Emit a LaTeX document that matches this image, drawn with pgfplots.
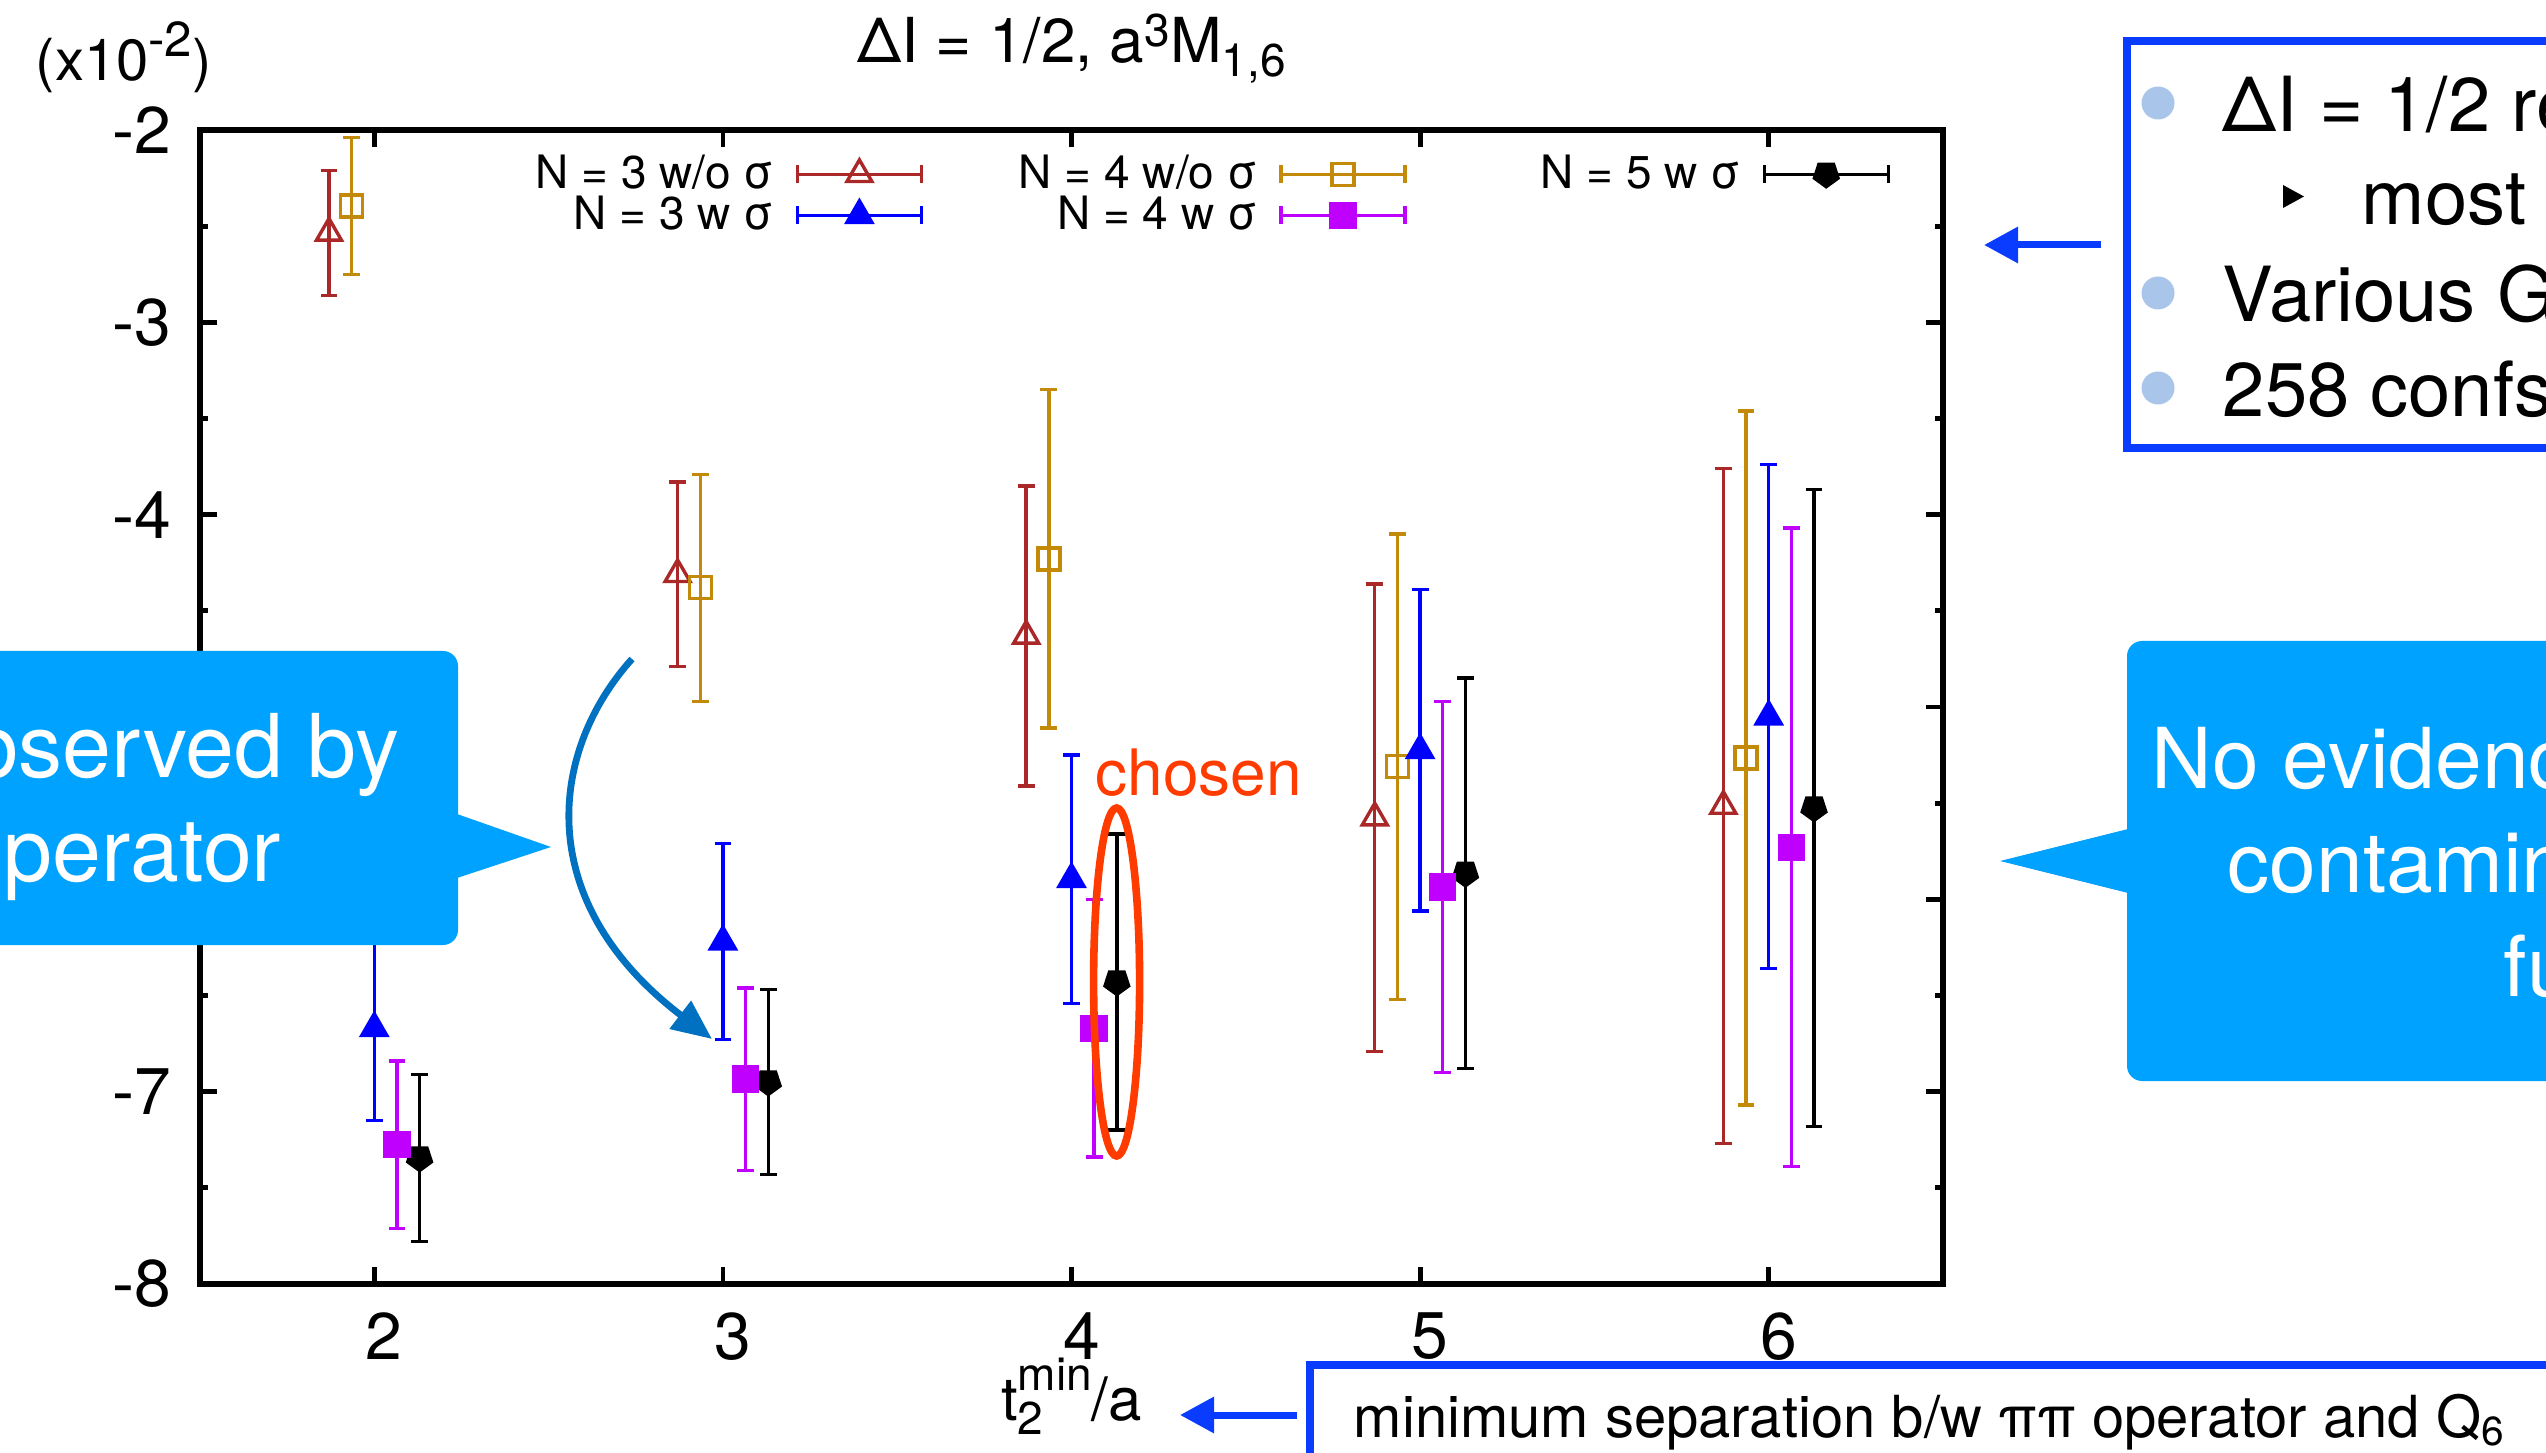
\documentclass[border=0pt]{standalone}
\usepackage{fontspec}
\setmainfont{TeX Gyre Heros}
\usepackage{pgfplots}
\pgfplotsset{compat=1.18}
\usetikzlibrary{arrows.meta}

\definecolor{gpred}{RGB}{170,40,40}
\definecolor{gpgold}{RGB}{195,138,10}
\definecolor{gpblue}{RGB}{0,0,255}
\definecolor{gpviolet}{RGB}{192,0,255}
\definecolor{callout}{RGB}{0,162,255}
\definecolor{boxblue}{RGB}{10,60,255}
\definecolor{arcblue}{RGB}{0,112,192}
\definecolor{bulletblue}{RGB}{169,198,234}
\definecolor{chosenred}{RGB}{255,59,0}

% raised / lowered text: {shift}{size}{text}
\newcommand\shifted[3]{\raisebox{#1}{\fontsize{#2}{#2}\selectfont #3}}
% legend text cell, fixed width, right aligned
\newcommand\legtext[1]{\makebox[59pt][r]{\rule[-2.5pt]{0pt}{11.25pt}#1}}

\pgfplotsset{
  eb/.style={only marks, mark options={solid, line width=0.85pt},
    error bars/.cd, y dir=both, y explicit,
    error bar style={line width=0.85pt, solid},
    error mark options={rotate=90, line width=0.85pt, mark size=2.1pt},
    /pgfplots/.cd,
    legend image code/.code={
      \draw[line width=0.85pt] (0pt,0pt) -- (31pt,0pt)
        (0pt,-2.2pt) -- (0pt,2.2pt) (31pt,-2.2pt) -- (31pt,2.2pt);
      \draw plot coordinates {(15.5pt,0pt)};
    }},
}

\begin{document}
\begin{tikzpicture}
\useasboundingbox (0,0) rectangle (636.5pt,-363.25pt);
\clip (0,0) rectangle (636.5pt,-363.25pt);

\begin{axis}[
  at={(50pt,-321pt)}, anchor=south west,
  scale only axis, width=435.75pt, height=288.5pt,
  xmin=1.5, xmax=6.5, ymin=-8, ymax=-2,
  xtick={2,3,4,5,6}, xticklabels={2,3,4,5,6},
  ytick={-8,-7,-6,-5,-4,-3,-2}, yticklabels={-8,-7,-6,-5,-4,-3,-2},
  minor ytick={-7.5,-6.5,-5.5,-4.5,-3.5,-2.5},
  tick align=inside,
  major tick length=4.3pt, minor tick length=2pt,
  every tick/.style={black, line width=1.2pt},
  axis line style={line width=1.6pt},
  tick label style={font=\fontsize{16.5}{19}\selectfont},
  xticklabel style={yshift=-3.6pt, xshift=2.5pt},
  yticklabel style={xshift=-3.6pt},
  title={ΔI = 1/2, a\shifted{4pt}{11.5}{3}M\shifted{-3.5pt}{11.5}{1,6}},
  title style={at={(axis description cs:0.5,1)}, anchor=base, yshift=10.8pt,
    font=\fontsize{15.5}{18}\selectfont},
  xlabel={t\rlap{\shifted{-3.4pt}{11.5}{2}}\shifted{7.5pt}{11.5}{min}/a},
  xlabel style={at={(axis description cs:0.5,0)}, anchor=base, yshift=-34.2pt,
    font=\fontsize{15}{18}\selectfont},
  legend columns=3, legend cell align=right, legend plot pos=right,
  legend style={at={(axis description cs:0.1933,0.9801)}, anchor=north west,
    draw=none, fill=none, inner sep=0pt,
    font=\fontsize{11.5}{13}\selectfont, nodes={inner sep=0pt},
    /tikz/every odd column/.style={column sep=5.5pt},
    /tikz/every even column/.style={column sep=24.5pt}},
]
% N = 3 w/o sigma
\addplot[eb, color=gpred, mark=triangle, mark size=3.6pt] coordinates {
  (1.87,-2.535) +- (0,0.325)
  (2.87,-4.31)  +- (0,0.48)
  (3.87,-4.63)  +- (0,0.78)
  (4.87,-5.575) +- (0,1.215)
  (5.87,-5.515) +- (0,1.755)
};
\addlegendentry{\legtext{N = 3 w/o σ}}
% N = 4 w/o sigma
\addplot[eb, color=gpgold, mark=square, mark size=2.75pt] coordinates {
  (1.935,-2.395) +- (0,0.355)
  (2.935,-4.38)  +- (0,0.59)
  (3.935,-4.23)  +- (0,0.88)
  (4.935,-5.31)  +- (0,1.21)
  (5.935,-5.265) +- (0,1.805)
};
\addlegendentry{\legtext{N = 4 w/o σ}}
% N = 5 w sigma
\addplot[eb, color=black, mark=pentagon*, mark size=3.1pt,
  mark options={solid, line width=0.85pt, rotate=180}] coordinates {
  (2.13,-7.345) +- (0,0.435)
  (3.13,-6.95)  +- (0,0.48)
  (4.13,-6.43)  +- (0,0.77)
  (5.13,-5.865) +- (0,1.015)
  (6.13,-5.525) +- (0,1.655)
};
\addlegendentry{\legtext{N = 5 w σ}}
% N = 3 w sigma
\addplot[eb, color=gpblue, mark=triangle*, mark size=3.6pt] coordinates {
  (2,-6.67)  +- (0,0.48)
  (3,-6.22)  +- (0,0.51)
  (4,-5.895) +- (0,0.645)
  (5,-5.225) +- (0,0.835)
  (6,-5.05)  +- (0,1.31)
};
\addlegendentry{\legtext{N = 3 w σ}}
% N = 4 w sigma
\addplot[eb, color=gpviolet, mark=square*, mark size=3pt] coordinates {
  (2.065,-7.275) +- (0,0.435)
  (3.065,-6.935) +- (0,0.475)
  (4.065,-6.67)  +- (0,0.67)
  (5.065,-5.935) +- (0,0.965)
  (6.065,-5.73)  +- (0,1.66)
};
\addlegendentry{\legtext{N = 4 w σ}}
\end{axis}

\begin{scope}[x=0.25pt,y=-0.25pt]
% axis scale note
\node[anchor=base west, inner sep=0, font=\fontsize{14.5}{17}\selectfont]
  at (35,81) {(x10\shifted{6pt}{12.3}{-2})};

% chosen mark
\draw[chosenred, line width=1.9pt] (1116.6,982) ellipse [x radius=23, y radius=174];
\node[anchor=base west, inner sep=0, text=chosenred, font=\fontsize{16}{19}\selectfont]
  at (1095,795) {chosen};

% curved arrow
\draw[arcblue, line width=1.7pt, -{Triangle[length=10pt,width=8.5pt]}]
  (632,659) .. controls (550,750) and (530,900) .. (712,1039);

% left callout
\fill[callout, rounded corners=3.75pt] (-100,651) rectangle (458,945);
\fill[callout] (457,814) -- (551,847) -- (457,878) -- cycle;
\node[anchor=base east, inner sep=0, text=white, font=\fontsize{22}{26}\selectfont]
  at (400,777) {observed by};
\node[anchor=base east, inner sep=0, text=white, font=\fontsize{22}{26}\selectfont]
  at (282,881) {operator};

% right callout
\fill[callout, rounded corners=3.75pt] (2127,641) rectangle (2700,1081);
\fill[callout] (2128,829) -- (2000,861) -- (2128,893) -- cycle;
\node[anchor=base west, inner sep=0, text=white, font=\fontsize{21}{25}\selectfont]
  at (2151,788) {No evidence of excited-state};
\node[anchor=base west, inner sep=0, text=white, font=\fontsize{21}{25}\selectfont]
  at (2227,892) {contamination in the};
\node[anchor=base west, inner sep=0, text=white, font=\fontsize{21}{25}\selectfont]
  at (2503,996) {further};

% right box
\draw[boxblue, line width=2pt] (2127,41) rectangle (2700,448);
\fill[bulletblue] (2158,103) circle [radius=16.5];
\fill[bulletblue] (2158,293) circle [radius=16.5];
\fill[bulletblue] (2158,388) circle [radius=16.5];
\fill[black] (2283,185) -- (2304,196.5) -- (2283,208) -- cycle;
\node[anchor=base west, inner sep=0, font=\fontsize{19}{23}\selectfont]
  at (2222,132) {ΔI = 1/2 results};
\node[anchor=base west, inner sep=0, font=\fontsize{19}{23}\selectfont]
  at (2361,225) {most precise};
\node[anchor=base west, inner sep=0, font=\fontsize{19}{23}\selectfont]
  at (2222,322) {Various G};
\node[anchor=base west, inner sep=0, font=\fontsize{19}{23}\selectfont]
  at (2222,417) {258 confs};
\draw[boxblue, line width=1.75pt, -{Triangle[length=8.5pt,width=8.7pt]}]
  (2101,245) -- (1984,245);

% bottom box
\draw[boxblue, line width=1.8pt] (1310,1365) rectangle (2700,1600);
\draw[boxblue, line width=1.75pt, -{Triangle[length=8.5pt,width=8.7pt]}]
  (1297,1415) -- (1180,1415);
\node[anchor=base west, inner sep=0, font=\fontsize{14.5}{17}\selectfont]
  at (1353,1437) {minimum separation b/w ππ operator and Q\textsubscript{6}};
\end{scope}
\end{tikzpicture}
\end{document}
